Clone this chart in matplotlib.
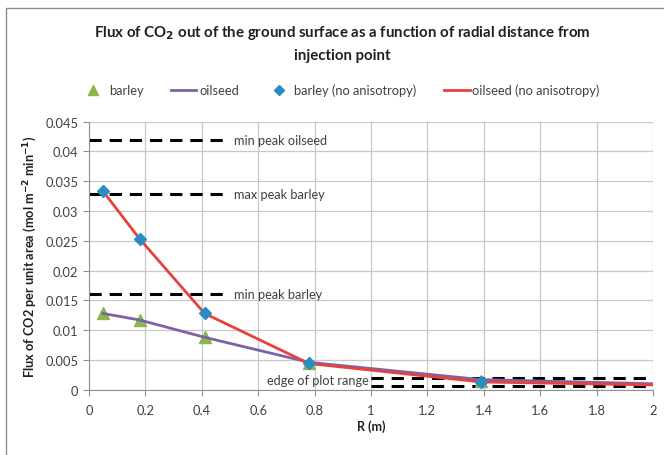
import matplotlib
matplotlib.use("Agg")
import matplotlib.pyplot as plt
from matplotlib.lines import Line2D
from matplotlib.patches import Rectangle

plt.rcParams['font.family'] = ['Lato', 'DejaVu Sans']

# Data
r_points = [0.05, 0.18, 0.41, 0.78, 1.39]
barley = [0.0128, 0.0117, 0.0088, 0.0045, 0.0015]
r_line = [0.05, 0.18, 0.41, 0.78, 1.39, 2.0]
oilseed = [0.0128, 0.0117, 0.0088, 0.0046, 0.0017, 0.0010]
barley_noaniso = [0.0333, 0.0253, 0.0128, 0.0045, 0.0013]
oilseed_noaniso = [0.0333, 0.0253, 0.0128, 0.0044, 0.0013, 0.0008]

ref_labels = ["min peak oilseed", "max peak barley", "min peak barley"]
ref_values = [0.042, 0.0328, 0.016]
ref_x = [0.0, 0.5]
edge_values = [0.002, 0.0006]
edge_x = [1.0, 2.0]
edge_label = "edge of plot range"

fig = plt.figure(figsize=(6.64, 4.56), dpi=100)
fig.patches.append(Rectangle((6/664, -0.1), 1.2, 1 - 9/456 + 0.1, transform=fig.transFigure,
                             fill=False, edgecolor='#8c8c8c', lw=1.0))
ax = fig.add_axes([89/664, 1 - 390.7/456, (653 - 89)/664, (390.7 - 122.7)/456])

dash_kw = dict(color='black', lw=2.2, dashes=(4, 2.6), solid_capstyle='butt', zorder=2)
for lab, v in zip(ref_labels, ref_values):
    ax.plot(ref_x, [v, v], **dash_kw)
    ax.text(0.515, v, lab, fontsize=9.2, color='#404040', va='center', ha='left')
for v in edge_values:
    ax.plot(edge_x, [v, v], **dash_kw)
ax.text(0.993, 0.0016, edge_label, fontsize=9.2, color='#404040', va='center', ha='right')

ax.plot(r_points, barley, linestyle='none', marker='^', ms=8, color='#8cb54a', zorder=3)
ax.plot(r_line, oilseed, color='#7e62a6', lw=2.0, zorder=4)
ax.plot(r_line, oilseed_noaniso, color='#e8413c', lw=2.0, zorder=5)
ax.plot(r_points, barley_noaniso, linestyle='none', marker='D', ms=6.5, color='#2a8cc4', zorder=6)

ax.set_xlim(0, 2)
ax.set_ylim(0, 0.045)
ax.set_xticks([0, 0.2, 0.4, 0.6, 0.8, 1, 1.2, 1.4, 1.6, 1.8, 2])
ax.set_xticklabels(['0', '0.2', '0.4', '0.6', '0.8', '1', '1.2', '1.4', '1.6', '1.8', '2'])
ax.set_yticks([0, 0.005, 0.01, 0.015, 0.02, 0.025, 0.03, 0.035, 0.04, 0.045])
ax.set_yticklabels(['0', '0.005', '0.01', '0.015', '0.02', '0.025', '0.03', '0.035', '0.04', '0.045'])
ax.grid(True, color='#c8c8c8', lw=0.9)
ax.set_axisbelow(True)
for s in ['top', 'right']:
    ax.spines[s].set_visible(False)
for s in ['left', 'bottom']:
    ax.spines[s].set_color('#909090')
ax.tick_params(axis='both', colors='#909090', labelcolor='#404040', labelsize=9.3, length=4)
ax.tick_params(axis='x', pad=6)

ax.set_xlabel('R (m)', fontsize=9, fontweight='bold', color='#202020', labelpad=3)
ax.set_ylabel('Flux of CO2 per unit area (mol m$^{\\mathbf{-2}}$ min$^{\\mathbf{-1}}$)',
              fontsize=9.2, fontweight='bold', color='#202020', labelpad=5)

fig.text(342/664, 1 - 33/456, 'Flux of CO$_\\mathbf{2}$ out of the ground surface as a function of radial distance from',
         ha='center', va='center', fontsize=10.8, fontweight='bold', color='#202020')
fig.text(342/664, 1 - 56/456, 'injection point', ha='center', va='center', fontsize=10.8,
         fontweight='bold', color='#202020')

handles = [
    Line2D([], [], linestyle='none', marker='^', ms=7, color='#8cb54a'),
    Line2D([], [], color='#7e62a6', lw=2.0),
    Line2D([], [], linestyle='none', marker='D', ms=5.5, color='#2a8cc4'),
    Line2D([], [], color='#e8413c', lw=2.0),
]
labels = ['barley', 'oilseed', 'barley (no anisotropy)', 'oilseed (no anisotropy)']
fig.legend(handles, labels, loc='center', bbox_to_anchor=(340/664, 1 - 91/456), ncol=4,
           frameon=False, fontsize=9.3, handlelength=2.0, handletextpad=0.2, columnspacing=2.1,
           labelcolor='#404040')

fig.savefig('out.png', dpi=100)
